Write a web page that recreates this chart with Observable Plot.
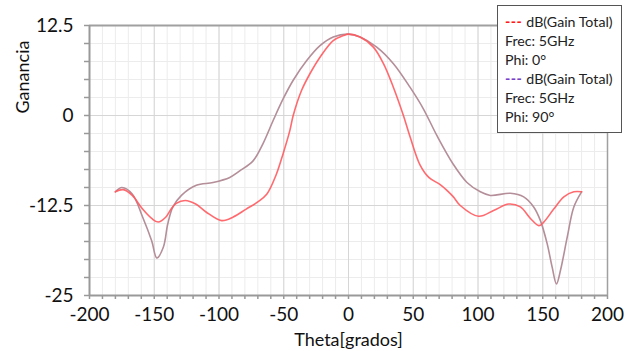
<!DOCTYPE html>
<html>
<head>
<meta charset="utf-8">
<script src="https://cdn.jsdelivr.net/npm/d3@7"></script>
<script src="https://cdn.jsdelivr.net/npm/@observablehq/plot@0.6"></script>
<style>
  html, body { margin: 0; padding: 0; background: white; }
  #wrap { position: relative; width: 640px; height: 351px; }
  #legend {
    position: absolute; left: 497px; top: 5px; width: 123px; height: 120px;
    border: 1.5px solid #555; background: white; box-sizing: content-box;
    font-family: Lato, "Open Sans", sans-serif; font-size: 14.2px; line-height: 19px;
    color: #222; padding: 6px 0 0 0;
  }
  #legend div { padding-left: 7px; white-space: nowrap; }
  #legend span { font-weight: bold; letter-spacing: 0.5px; }
</style>
</head>
<body>
<div id="wrap"></div>
<script>
// Phi = 0° (red)
const theta0 = [-180, -174, -167, -159, -152, -147, -141, -137, -133, -126, -118, -110, -98, -89, -79, -70, -63, -56, -50.5, -45.3, -42.7, -36.2, -29.8, -22, -11.8, -4, 0, 8.9, 19.2, 27, 34.7, 42.4, 47.6, 55.3, 62, 70.8, 76, 81, 86.3, 100.5, 112, 123.7, 132.7, 140.5, 147, 150.8, 158.5, 166.3, 174, 180];
const gain0 = [-10.6, -10.3, -11.1, -13.0, -14.3, -14.8, -14.1, -13.0, -12.2, -11.8, -12.3, -13.4, -14.6, -14.1, -13.0, -12.0, -10.9, -8.3, -5.3, -2.1, 0, 3.5, 5.8, 8.1, 10.4, 11.1, 11.3, 10.9, 9.5, 7.2, 3.9, 0, -3.0, -6.9, -8.6, -9.6, -10.4, -11.3, -12.5, -14.0, -13.2, -12.3, -12.7, -14.3, -15.3, -14.8, -13.0, -11.3, -10.6, -10.6];

// Phi = 90° (mauve)
const theta90 = [-180, -175, -167, -159, -152, -148, -143, -139.5, -135.6, -129, -117.5, -104.6, -91.7, -84, -73.7, -66, -58.2, -50.5, -42.7, -32.4, -22, -11.8, 0, 8.9, 21.8, 34.7, 47.6, 57.9, 68.3, 81, 91.5, 101.8, 109.5, 125, 135.3, 143, 148.2, 153.4, 157.3, 160.6, 163.7, 168.9, 174, 180];
const gain90 = [-10.6, -10.0, -10.9, -14.1, -17.4, -19.8, -18.3, -15.0, -12.7, -11.1, -9.7, -9.3, -8.6, -7.7, -6.3, -3.9, -0.7, 2.3, 4.9, 7.6, 9.7, 10.9, 11.3, 10.9, 9.5, 7.2, 3.9, 0.9, -2.8, -6.8, -9.3, -10.6, -11.1, -10.8, -11.3, -12.7, -14.6, -17.8, -21.1, -23.4, -21.5, -16.9, -12.7, -10.6];

const xTicks = [-200, -150, -100, -50, 0, 50, 100, 150, 200];
const yTicks = [-25, -12.5, 0, 12.5];
const xLabel = "Theta[grados]";
const yLabel = "Ganancia";
const legendLines = [
  {dash: "#ff1a1a", text: "dB(Gain Total)"},
  {text: "Frec: 5GHz"},
  {text: "Phi: 0°"},
  {dash: "#7a3fc8", text: "dB(Gain Total)"},
  {text: "Frec: 5GHz"},
  {text: "Phi: 90°"}
];

const s0 = theta0.map((t, i) => ({theta: t, gain: gain0[i]}));
const s90 = theta90.map((t, i) => ({theta: t, gain: gain90[i]}));
const minorX = d3.range(-200, 201, 10);
const minorY = d3.range(-25, 12.6, 2.5);

const chart = Plot.plot({
  width: 640,
  height: 351,
  marginLeft: 89,
  marginRight: 33,
  marginTop: 25,
  marginBottom: 56,
  x: {domain: [-200, 200]},
  y: {domain: [-25, 12.5]},
  style: {fontFamily: "Lato, 'Open Sans', sans-serif", fontSize: "19px", color: "#111", background: "white"},
  marks: [
    Plot.ruleX(minorX, {stroke: "#ececec", strokeWidth: 1}),
    Plot.ruleY(minorY, {stroke: "#ececec", strokeWidth: 1}),
    Plot.ruleX(xTicks, {stroke: "#d6d6d6", strokeWidth: 1}),
    Plot.ruleY(yTicks, {stroke: "#d6d6d6", strokeWidth: 1}),
    Plot.ruleY([12.5], {stroke: "#a0a0a0", strokeWidth: 2}),
    Plot.ruleX([200], {stroke: "#a0a0a0", strokeWidth: 1.5}),
    Plot.axisX(minorX, {tickSize: 4, tickFormat: () => "", label: null, stroke: "#999", strokeWidth: 1.5}),
    Plot.axisY(minorY, {tickSize: 5, tickFormat: () => "", label: null, stroke: "#999", strokeWidth: 1.5}),
    Plot.axisX(xTicks, {tickSize: 0, tickPadding: 12, tickFormat: d => String(d), label: null, fontSize: 19, fill: "#111"}),
    Plot.axisY(yTicks, {tickSize: 0, tickPadding: 16, tickFormat: d => String(d), label: null, fontSize: 19, fill: "#111"}),
    Plot.ruleX([-200], {stroke: "#999", strokeWidth: 2}),
    Plot.ruleY([-25], {stroke: "#999", strokeWidth: 2}),
    Plot.line(s90, {x: "theta", y: "gain", stroke: "#b48e99", strokeWidth: 1.6, curve: "catmull-rom"}),
    Plot.line(s0, {x: "theta", y: "gain", stroke: "#ff5a5f", strokeWidth: 1.6, strokeOpacity: 0.9, curve: "catmull-rom"}),
    Plot.text([xLabel], {frameAnchor: "bottom", dy: 45, fontSize: 18, fill: "#111", lineAnchor: "middle"}),
    Plot.text([yLabel], {frameAnchor: "top-left", dx: -66, dy: 88, rotate: -90, fontSize: 18, fill: "#111", lineAnchor: "middle"})
  ]
});

const wrap = document.getElementById("wrap");
wrap.appendChild(chart);
const leg = document.createElement("div");
leg.id = "legend";
legendLines.forEach(l => {
  const d = document.createElement("div");
  if (l.dash) {
    const s = document.createElement("span");
    s.textContent = "--- ";
    s.style.color = l.dash;
    d.appendChild(s);
  }
  d.appendChild(document.createTextNode(l.text));
  leg.appendChild(d);
});
wrap.appendChild(leg);
</script>
</body>
</html>
